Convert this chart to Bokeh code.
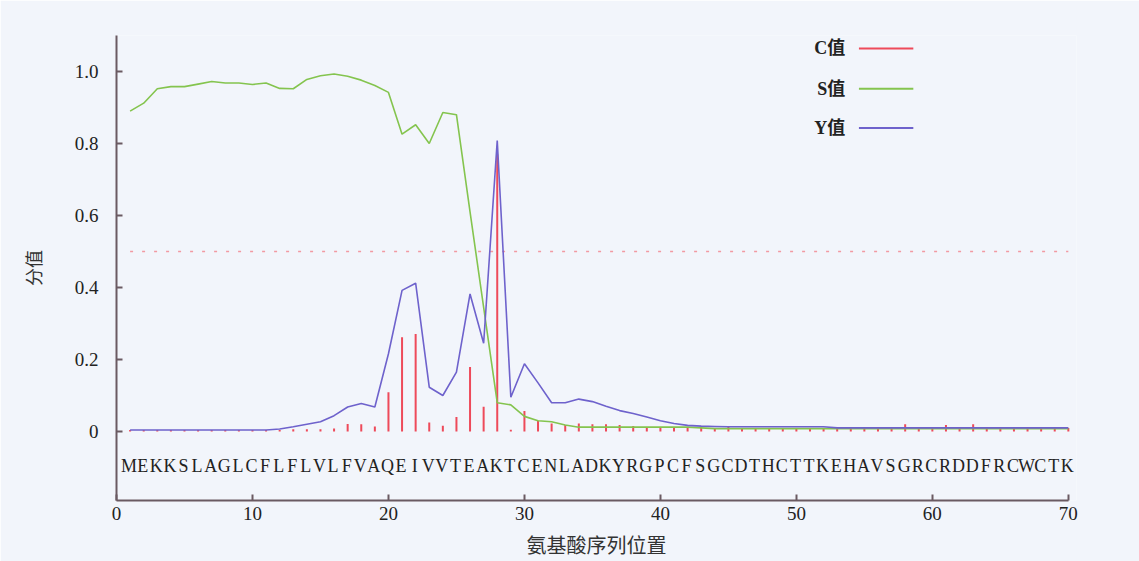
from bokeh.plotting import figure
from bokeh.models import Range1d, FixedTicker
from bokeh.core.properties import value
from bokeh.embed import file_html
from bokeh.resources import INLINE

# ---------------- data ----------------
sequence = "MEKKSLAGLCFLFLVLFVAQEIVVTEAKTCENLADKYRGPCFSGCDTHCTTKEHAVSGRCRDDFRCWCTK"
positions = list(range(1, 71))

c_values = [0.004, 0.004, 0.004, 0.004, 0.004, 0.004, 0.004, 0.004, 0.004, 0.004,
            0.004, 0.004, 0.006, 0.006, 0.006, 0.008, 0.021, 0.020, 0.014, 0.109,
            0.262, 0.271, 0.025, 0.016, 0.040, 0.179, 0.069, 0.770, 0.005, 0.057,
            0.030, 0.022, 0.018, 0.022, 0.020, 0.020, 0.018, 0.015, 0.012, 0.012,
            0.010, 0.010, 0.010, 0.010, 0.014, 0.010, 0.010, 0.010, 0.010, 0.010,
            0.010, 0.010, 0.010, 0.010, 0.010, 0.012, 0.012, 0.020, 0.010, 0.012,
            0.018, 0.010, 0.020, 0.010, 0.010, 0.010, 0.010, 0.012, 0.010, 0.010]

s_values = [0.890, 0.912, 0.952, 0.958, 0.958, 0.965, 0.972, 0.968, 0.968, 0.964,
            0.968, 0.953, 0.952, 0.978, 0.988, 0.993, 0.987, 0.976, 0.961, 0.942,
            0.826, 0.852, 0.800, 0.886, 0.880, 0.610, 0.345, 0.080, 0.074, 0.042,
            0.030, 0.027, 0.018, 0.012, 0.012, 0.012, 0.012, 0.012, 0.012, 0.012,
            0.012, 0.012, 0.010, 0.008, 0.008, 0.008, 0.008, 0.008, 0.008, 0.008,
            0.008, 0.008, 0.008, 0.008, 0.008, 0.008, 0.008, 0.008, 0.008, 0.008,
            0.008, 0.008, 0.008, 0.008, 0.008, 0.008, 0.008, 0.008, 0.008, 0.008]

y_values = [0.004, 0.004, 0.004, 0.004, 0.004, 0.004, 0.004, 0.004, 0.004, 0.004,
            0.004, 0.007, 0.013, 0.020, 0.027, 0.044, 0.068, 0.078, 0.068, 0.216,
            0.392, 0.412, 0.123, 0.100, 0.165, 0.382, 0.245, 0.808, 0.095, 0.188,
            0.135, 0.080, 0.080, 0.090, 0.083, 0.070, 0.058, 0.050, 0.040, 0.030,
            0.022, 0.017, 0.015, 0.014, 0.013, 0.013, 0.013, 0.013, 0.013, 0.013,
            0.013, 0.013, 0.010, 0.010, 0.010, 0.010, 0.010, 0.010, 0.010, 0.010,
            0.010, 0.010, 0.010, 0.010, 0.010, 0.010, 0.010, 0.010, 0.010, 0.010]

threshold = 0.5
x_ticks = [0, 10, 20, 30, 40, 50, 60, 70]
y_ticks = [0, 0.2, 0.4, 0.6, 0.8, 1.0]
y_tick_labels = ["0", "0.2", "0.4", "0.6", "0.8", "1.0"]
legend_labels = ["C值", "S值", "Y值"]

RED = "#ee4a5a"
GREEN = "#84c44e"
PURPLE = "#6e62cc"
AXIS = "#6a5a62"
BG = "#f2f5fb"
SERIF = "Liberation Serif"
CJK = "Noto Sans CJK SC"

# x range a little past 70 so the last residue letter is not clipped;
# the axis itself is bounded to 0..70
p = figure(width=1139, height=561, x_range=Range1d(0, 70.6), y_range=Range1d(-0.1917, 1.1),
           output_backend="svg", toolbar_location=None,
           min_border_left=116, min_border_right=63, min_border_top=35, min_border_bottom=61,
           background_fill_color=BG, border_fill_color=BG)
p.outline_line_color = None
p.grid.visible = False

# threshold
p.line([positions[0], positions[-1]], [threshold, threshold], line_color="#f29aa2",
       line_dash="3 9", line_width=1.6)

# C bars
p.segment(x0=positions, y0=[0] * len(positions), x1=positions, y1=c_values,
          line_color=RED, line_width=2)
# S and Y lines
p.line(positions, s_values, line_color=GREEN, line_width=1.6)
p.line(positions, y_values, line_color=PURPLE, line_width=1.6)

# sequence letters
p.text(x=positions, y=[-0.095] * len(positions), text=list(sequence), x_offset=-1,
       text_align="center", text_baseline="middle",
       text_font=value(SERIF), text_font_size="18px", text_color="#222222")

# legend (label then line)
leg_y = [1.064, 0.952, 0.843]
leg_colors = [RED, GREEN, PURPLE]
p.text(x=[53.6] * 3, y=leg_y, text=legend_labels, text_align="right", text_baseline="middle",
       text_font=value(SERIF + ", " + CJK), text_font_size="18px", text_font_style="bold",
       text_color="#222222")
p.segment(x0=[54.6] * 3, y0=leg_y, x1=[58.6] * 3, y1=leg_y, line_color=leg_colors, line_width=2)

# axes
for ax in (p.xaxis[0], p.yaxis[0]):
    ax.axis_line_color = AXIS
    ax.axis_line_width = 2
    ax.major_tick_line_color = AXIS
    ax.major_tick_line_width = 2
    ax.major_tick_in = 6
    ax.major_tick_out = 0
    ax.minor_tick_line_color = None
    ax.major_label_text_font = SERIF
    ax.major_label_text_font_size = "19px"
    ax.major_label_text_color = "#222222"
    ax.axis_label_text_font = CJK
    ax.axis_label_text_font_style = "normal"
    ax.axis_label_text_color = "#333333"

p.xaxis.bounds = (0, 70)
p.xaxis.axis_label_text_font_size = "20px"
p.yaxis.axis_label_text_font_size = "18px"
p.xaxis.ticker = FixedTicker(ticks=x_ticks)
p.yaxis.ticker = FixedTicker(ticks=y_ticks)
p.yaxis.major_label_overrides = {t: l for t, l in zip(y_ticks, y_tick_labels)}
p.xaxis.major_label_standoff = 6
p.yaxis.major_label_standoff = 18
p.xaxis.axis_label = "氨基酸序列位置"
p.yaxis.axis_label = "分值"
p.xaxis.axis_label_standoff = 7
p.yaxis.axis_label_standoff = 26

open("out.html", "w").write(file_html(p, INLINE))
